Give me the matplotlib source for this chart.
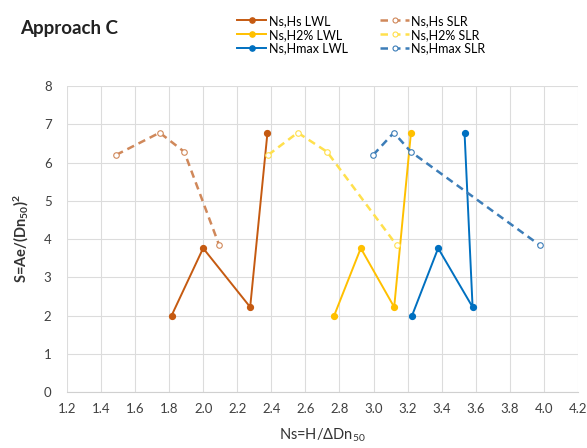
import matplotlib
matplotlib.use("Agg")
import matplotlib.pyplot as plt

plt.rcParams['font.family'] = ['Lato', 'DejaVu Sans']
plt.rcParams['mathtext.fontset'] = 'custom'
plt.rcParams['mathtext.rm'] = 'Lato'
plt.rcParams['mathtext.bf'] = 'Lato:bold'
plt.rcParams['mathtext.default'] = 'regular'

# data
hs_lwl_x = [1.815, 2.00, 2.276, 2.377]
h2_lwl_x = [2.769, 2.925, 3.121, 3.219]
hmax_lwl_x = [3.226, 3.379, 3.581, 3.534]
lwl_y = [2.00, 3.76, 2.22, 6.76]

hs_slr_x = [1.49, 1.745, 1.889, 2.094]
h2_slr_x = [2.382, 2.555, 2.727, 3.135]
hmax_slr_x = [2.998, 3.119, 3.219, 3.975]
slr_y = [6.20, 6.78, 6.28, 3.84]

x_ticks = [1.2, 1.4, 1.6, 1.8, 2.0, 2.2, 2.4, 2.6, 2.8, 3.0, 3.2, 3.4, 3.6, 3.8, 4.0, 4.2]
y_ticks = [0, 1, 2, 3, 4, 5, 6, 7, 8]

fig = plt.figure(figsize=(5.87, 4.48), dpi=100)
ax = fig.add_axes([0.1138, 0.125, 0.871, 0.683])

# LWL series (solid, filled markers)
ax.plot(hs_lwl_x, lwl_y, color='#C55A11', lw=1.4, marker='o', ms=4.2, label='Ns,Hs LWL')
ax.plot(h2_lwl_x, lwl_y, color='#FFC000', lw=1.4, marker='o', ms=4.2, label='Ns,H2% LWL')
ax.plot(hmax_lwl_x, lwl_y, color='#0070C0', lw=1.4, marker='o', ms=4.2, label='Ns,Hmax LWL')

# SLR series (dashed, open markers)
ax.plot(hs_slr_x, slr_y, color='#D0885A', lw=1.8, ls=(0, (3, 2)), marker='o', ms=4,
        mfc='white', mec='#D0885A', mew=0.8, label='Ns,Hs SLR')
ax.plot(h2_slr_x, slr_y, color='#FFE04D', lw=1.8, ls=(0, (3, 2)), marker='o', ms=4,
        mfc='white', mec='#FFE04D', mew=0.8, label='Ns,H2% SLR')
ax.plot(hmax_slr_x, slr_y, color='#3C7DB8', lw=1.8, ls=(0, (3, 2)), marker='o', ms=4,
        mfc='white', mec='#3C7DB8', mew=0.8, label='Ns,Hmax SLR')

ax.set_xlim(1.2, 4.2)
ax.set_ylim(0, 8)
ax.set_xticks(x_ticks)
ax.set_xticklabels([f'{v:.1f}' for v in x_ticks])
ax.set_yticks(y_ticks)
ax.grid(True, color='#DCDCDC', lw=0.8)
ax.set_axisbelow(True)
for s in ['top', 'right', 'left']:
    ax.spines[s].set_visible(False)
ax.spines['bottom'].set_color('#D0D0D0')
ax.tick_params(axis='x', length=0, labelsize=9.5, colors='#404040', pad=8)
ax.tick_params(axis='y', length=0, labelsize=9.5, colors='#404040', pad=11)

ax.set_xlabel('Ns=H/ΔDn$_{50}$', fontsize=10.5, color='#333333', labelpad=8)
ax.set_ylabel('S=Ae/(Dn$_{50}$)$^{2}$', fontsize=10.5, fontweight='bold', color='#333333', labelpad=9)

fig.text(0.034, 0.937, 'Approach C', fontsize=13.5, fontweight='bold', color='#222222', va='center')

fig.legend(loc='upper left', bbox_to_anchor=(0.396, 0.978), ncol=2, frameon=False,
           fontsize=9, handlelength=2.3, handletextpad=0.2, columnspacing=2.6,
           labelspacing=0.15, borderaxespad=0, markerscale=0.9)

fig.savefig('out.png', dpi=100)
